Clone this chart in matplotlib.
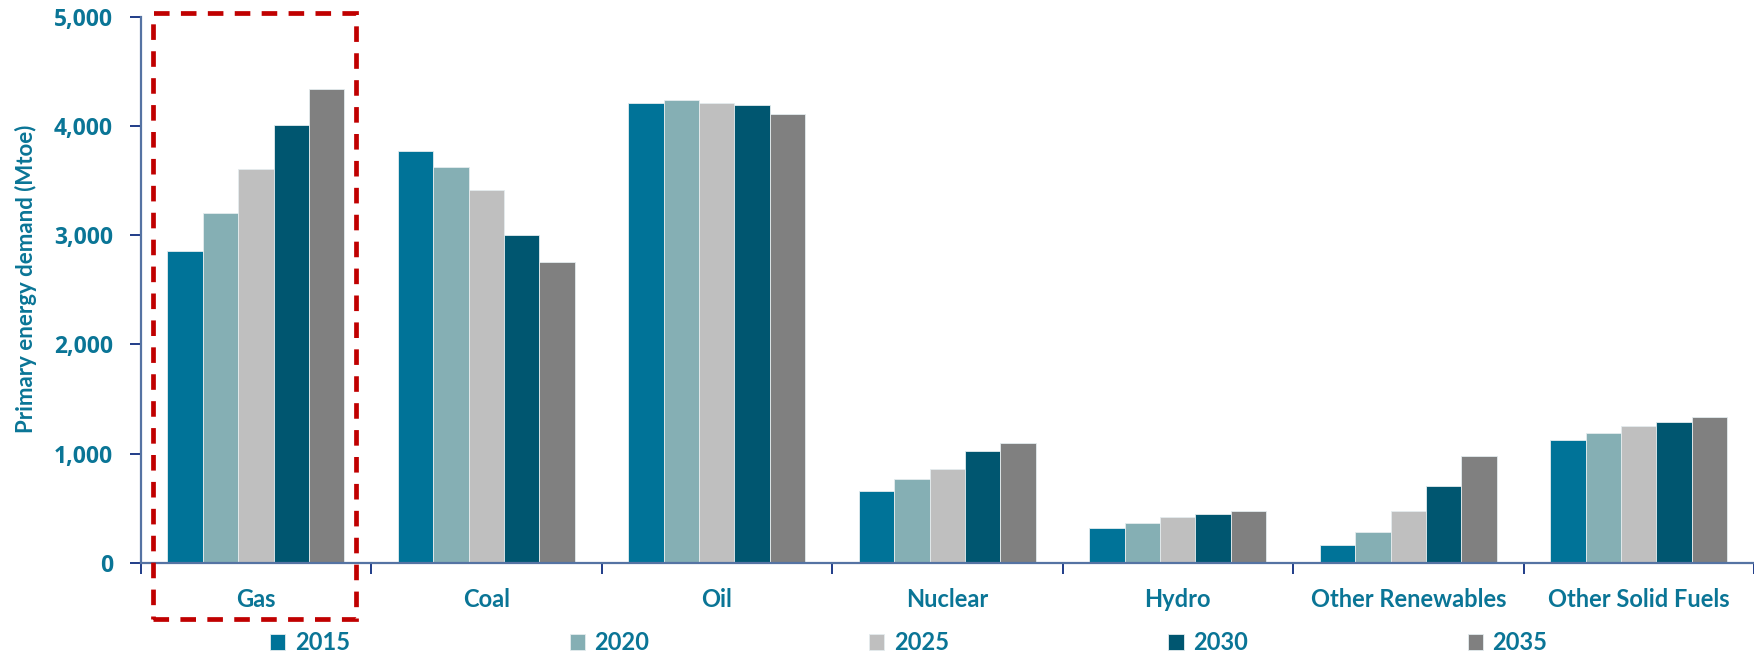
import numpy as np
import matplotlib.pyplot as plt
from matplotlib.patches import Rectangle

# -------------------------
# data (Mtoe)
# -------------------------
fuels = ["Gas", "Coal", "Oil", "Nuclear", "Hydro", "Other Renewables", "Other Solid Fuels"]
years = ["2015", "2020", "2025", "2030", "2035"]

demand_2015 = [2855, 3770, 4215, 660, 320, 160, 1120]
demand_2020 = [3200, 3625, 4240, 765, 360, 285, 1185]
demand_2025 = [3610, 3410, 4215, 860, 415, 475, 1250]
demand_2030 = [4005, 3005, 4190, 1020, 450, 700, 1290]
demand_2035 = [4335, 2755, 4110, 1095, 470, 975, 1330]
series = [demand_2015, demand_2020, demand_2025, demand_2030, demand_2035]

colors = ["#007398", "#85AFB4", "#BFBFBF", "#005670", "#808080"]
TEAL = "#0A7596"
AXIS = "#5573A3"

# -------------------------
# figure
# -------------------------
W, H = 1754, 654
fig = plt.figure(figsize=(W / 100, H / 100), dpi=100)
ax = fig.add_axes([140.6 / W, 91.3 / H, 1 - 140.6 / W, 545.9 / H])

x = np.arange(len(fuels))
bw = 0.1534
bars = []
for i, (vals, col, yr) in enumerate(zip(series, colors, years)):
    b = ax.bar(x + (i - 2) * bw, vals, width=bw, color=col, label=yr,
               edgecolor="#E4ECEE", linewidth=0.6, zorder=2)
    bars.append(b)

ax.set_xlim(-0.5, -0.5 + (W - 140.6) / 232)
ax.set_ylim(0, 5000)

# spines / ticks
for s in ["top", "right"]:
    ax.spines[s].set_visible(False)
for s in ["left", "bottom"]:
    ax.spines[s].set_color(AXIS)
    ax.spines[s].set_linewidth(1.6)

ax.set_yticks(np.arange(0, 5001, 1000))
ax.set_yticklabels([f"{v:,}" for v in range(0, 5001, 1000)],
                   family=["Open Sans", "DejaVu Sans"], fontweight="bold",
                   fontsize=16.5, color=TEAL)
ax.tick_params(axis="y", direction="out", length=8, width=1.4,
               color="#1F3C88", pad=12)

ax.set_xticks(x)
ax.set_xticklabels(fuels, family=["Lato", "DejaVu Sans"], fontweight="bold",
                   fontsize=17, color=TEAL)
ax.tick_params(axis="x", which="major", length=0, pad=18)
ax.set_xticks(np.arange(len(fuels) + 1) - 0.5, minor=True)
ax.tick_params(axis="x", which="minor", direction="out", length=8,
               width=1.4, color="#1F3C88")

ax.set_ylabel("Primary energy demand (Mtoe)", family=["Lato", "DejaVu Sans"],
              fontweight="bold", fontsize=16, color=TEAL)
ax.yaxis.set_label_coords(-0.064, 0.52)

# red dashed highlight round the gas group
box = Rectangle((153 / W, (H - 618.6) / H), (355.7 - 153) / W, (618.6 - 13.4) / H,
                transform=fig.transFigure, fill=False, edgecolor="#C00000",
                linewidth=3.4, linestyle=(0, (3.3, 2.4)), zorder=5)
fig.patches.append(box)

# legend along the bottom
leg = fig.legend(handles=bars, labels=years, loc="center left",
                 bbox_to_anchor=(270 / W, 1 - 643 / H), ncol=5, frameon=False,
                 handlelength=0.65, handleheight=0.65, handletextpad=0.4,
                 columnspacing=9.3, borderpad=0, borderaxespad=0,
                 prop={"family": ["Lato", "DejaVu Sans"], "weight": "bold", "size": 17})
for t in leg.get_texts():
    t.set_color(TEAL)

fig.savefig("out.png", dpi=100)
